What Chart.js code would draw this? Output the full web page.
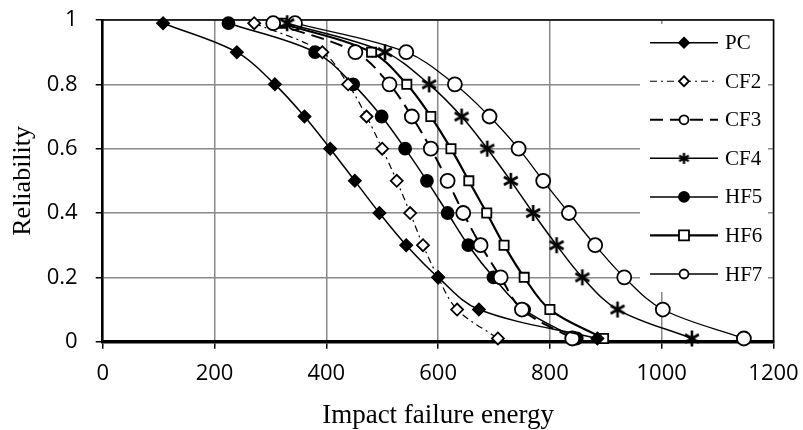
<!DOCTYPE html>
<html>
<head>
<meta charset="utf-8">
<script src="https://cdn.jsdelivr.net/npm/chart.js@4"></script>
<style>
  html, body { margin: 0; padding: 0; background: #fff; }
  #wrap { width: 803px; height: 430px; }
</style>
</head>
<body>
<div id="wrap"><canvas id="reliabilityChart" width="803" height="430"></canvas></div>
<script>
// reliability levels shared by every series
const reliability = [0.99, 0.9, 0.8, 0.7, 0.6, 0.5, 0.4, 0.3, 0.2, 0.1, 0.01];

// impact failure energy at each reliability level
const pc  = [108, 240, 308, 361, 407, 451, 495, 543, 600, 673, 885];
const cf2 = [271, 393, 439, 472, 500, 526, 550, 573, 600, 634, 707];
const cf3 = [305, 452, 513, 553, 587, 617, 645, 676, 712, 750, 840];
const cf4 = [330, 505, 584, 642, 688, 730, 770, 812, 858, 921, 1054];
const hf5 = [225, 380, 448, 499, 541, 580, 617, 654, 699, 754, 848];
const hf6 = [320, 481, 544, 587, 623, 655, 687, 718, 754, 800, 896];
const hf7 = [344, 543, 630, 692, 744, 788, 834, 881, 933, 1002, 1147];

const seriesNames = ['PC', 'CF2', 'CF3', 'CF4', 'HF5', 'HF6', 'HF7'];
const xTicks = [0, 200, 400, 600, 800, 1000, 1200];
const yTicks = [0, 0.2, 0.4, 0.6, 0.8, 1];

function toPoints(xs) {
    return xs.map((x, i) => ({ x: x, y: reliability[i] }));
}

// six-armed asterisk used for CF4
function makeAsterisk(size, lw) {
    const c = document.createElement('canvas');
    c.width = size; c.height = size;
    const g = c.getContext('2d');
    g.strokeStyle = '#000';
    g.lineWidth = lw;
    const r = size / 2 - 1;
    g.beginPath();
    for (let k = 0; k < 3; k++) {
        const a = Math.PI / 2 + k * Math.PI / 3;
        g.moveTo(size / 2 + r * Math.cos(a), size / 2 + r * Math.sin(a));
        g.lineTo(size / 2 - r * Math.cos(a), size / 2 - r * Math.sin(a));
    }
    g.stroke();
    return c;
}
const asteriskBig = makeAsterisk(18, 2.6);
const asteriskSmall = makeAsterisk(13, 2.4);

const styles = [
    { data: pc,  point: 'rectRot', radius: 6,   fill: '#000', lineWidth: 1.5, dash: [] },
    { data: cf2, point: 'rectRot', radius: 6,   fill: '#fff', lineWidth: 1.2, dash: [7, 4, 2, 4] },
    { data: cf3, point: 'circle',  radius: 7,   fill: '#fff', lineWidth: 2,   dash: [13, 7] },
    { data: cf4, point: asteriskBig, radius: 7, fill: '#fff', lineWidth: 1.5, dash: [] },
    { data: hf5, point: 'circle',  radius: 6,   fill: '#000', lineWidth: 1.5, dash: [] },
    { data: hf6, point: 'rect',    radius: 6.5, fill: '#fff', lineWidth: 2.2, dash: [] },
    { data: hf7, point: 'circle',  radius: 7,   fill: '#fff', lineWidth: 1.3, dash: [] }
];

const datasets = styles.map((s, i) => ({
    label: seriesNames[i],
    data: toPoints(s.data),
    showLine: true,
    tension: 0.35,
    borderColor: '#000',
    borderWidth: s.lineWidth,
    borderDash: s.dash,
    pointStyle: s.point,
    pointRadius: s.radius,
    pointBackgroundColor: s.fill,
    pointBorderColor: '#000',
    pointBorderWidth: 1.8,
    clip: false
}));

// small legend markers
function drawMarker(ctx, i, x, y) {
    const s = styles[i];
    ctx.save();
    ctx.setLineDash([]);
    ctx.lineWidth = 1.8;
    ctx.strokeStyle = '#000';
    ctx.fillStyle = s.fill;
    ctx.beginPath();
    if (s.point === 'rectRot') {
        const r = 5;
        ctx.moveTo(x, y - r); ctx.lineTo(x + r, y); ctx.lineTo(x, y + r); ctx.lineTo(x - r, y); ctx.closePath();
        ctx.fill(); ctx.stroke();
    } else if (s.point === 'circle') {
        ctx.arc(x, y, s.fill === '#000' ? 5 : 4.5, 0, Math.PI * 2);
        ctx.fill(); ctx.stroke();
    } else if (s.point === 'rect') {
        ctx.rect(x - 5, y - 5, 10, 10);
        ctx.fill(); ctx.stroke();
    } else {
        ctx.drawImage(asteriskSmall, x - 6.5, y - 6.5);
    }
    ctx.restore();
}

const framePlugin = {
    id: 'frame',
    beforeDatasetsDraw(chart) {
        const { ctx, chartArea: a } = chart;
        ctx.save();
        ctx.strokeStyle = '#000';
        ctx.lineWidth = 1.5;
        ctx.beginPath();
        ctx.moveTo(a.left, a.top);
        ctx.lineTo(a.right, a.top);
        ctx.lineTo(a.right, a.bottom);
        ctx.stroke();
        ctx.restore();
    },
    afterDatasetsDraw(chart) {
        const ctx = chart.ctx;
        ctx.save();
        ctx.fillStyle = '#fff';
        ctx.fillRect(640, 24, 128, 268);
        chart.data.datasets.forEach((ds, i) => {
            const y = 42.7 + i * 38.55;
            ctx.strokeStyle = '#000';
            ctx.lineWidth = styles[i].lineWidth;
            ctx.setLineDash(styles[i].dash);
            ctx.beginPath();
            ctx.moveTo(650, y);
            ctx.lineTo(718, y);
            ctx.stroke();
            drawMarker(ctx, i, 684, y);
            ctx.fillStyle = '#000';
            ctx.font = '21px "Liberation Serif", "Times New Roman", serif';
            ctx.textBaseline = 'middle';
            ctx.textAlign = 'left';
            ctx.fillText(ds.label, 725, y + 1);
        });
        ctx.restore();
    }
};

const config = {
    type: 'scatter',
    data: { datasets: datasets },
    options: {
        responsive: false,
        animation: false,
        devicePixelRatio: 1,
        layout: { padding: { left: 0, right: 29.5, top: 20, bottom: 0 } },
        plugins: {
            legend: { display: false },
            tooltip: { enabled: false }
        },
        scales: {
            x: {
                type: 'linear',
                min: 0,
                max: 1200,
                afterFit: scale => {
                    scale.height = 88.3;
                    scale.paddingLeft = 0;
                    scale.paddingRight = 0;
                },
                afterBuildTicks: scale => { scale.ticks = xTicks.map(v => ({ value: v })); },
                ticks: {
                    color: '#000',
                    padding: 12,
                    callback: v => String(v),
                    font: { family: '"Open Sans", sans-serif', size: 22 }
                },
                grid: {
                    color: '#8a8a8a',
                    lineWidth: 1.5,
                    tickLength: 7,
                    tickColor: '#000'
                },
                border: { color: '#000', width: 3.5 },
                title: {
                    display: true,
                    text: 'Impact failure energy',
                    color: '#000',
                    padding: { top: 0, bottom: 0 },
                    font: { family: '"Liberation Serif", "Times New Roman", serif', size: 27, lineHeight: 1.05 }
                }
            },
            y: {
                type: 'linear',
                min: 0,
                max: 1,
                afterFit: scale => {
                    scale.width = 102.7;
                    scale.paddingTop = 0;
                    scale.paddingBottom = 0;
                },
                afterBuildTicks: scale => { scale.ticks = yTicks.map(v => ({ value: v })); },
                ticks: {
                    color: '#000',
                    padding: 18,
                    callback: v => String(v),
                    font: { family: '"Open Sans", sans-serif', size: 22 }
                },
                grid: {
                    color: '#8a8a8a',
                    lineWidth: 1.5,
                    tickLength: 7,
                    tickColor: '#000'
                },
                border: { color: '#000', width: 2.5 },
                title: {
                    display: true,
                    text: 'Reliability',
                    color: '#000',
                    padding: { top: 8, bottom: 0 },
                    font: { family: '"Liberation Serif", "Times New Roman", serif', size: 26 }
                }
            }
        }
    },
    plugins: [framePlugin]
};

const reliabilityChart = new Chart(document.getElementById('reliabilityChart'), config);
</script>
</body>
</html>
